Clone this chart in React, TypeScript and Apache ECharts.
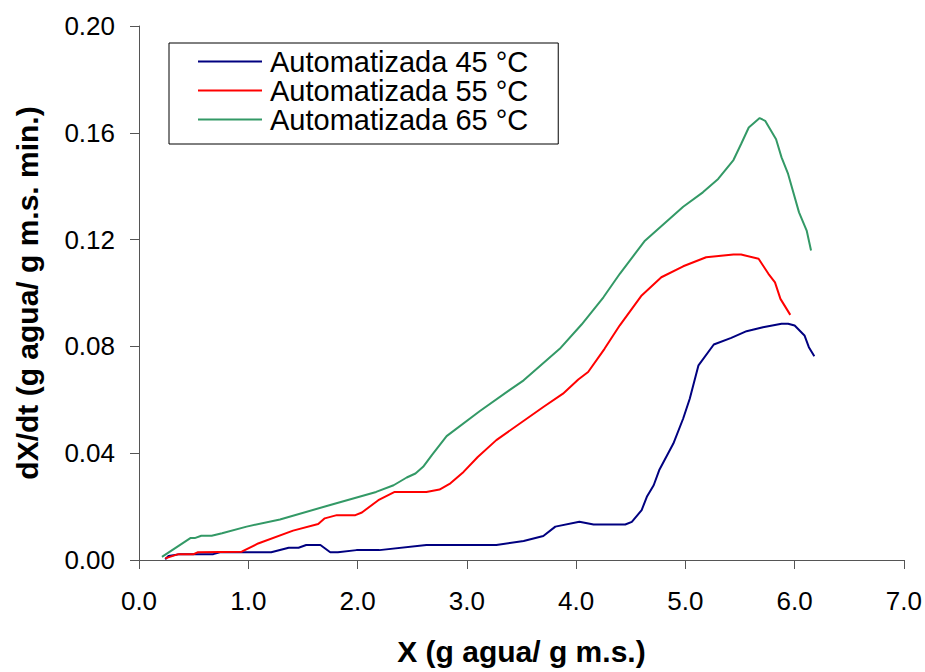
import React, { useEffect, useRef } from "react";
import * as echarts from "echarts";

const seriesNames = ["Automatizada 45 °C", "Automatizada 55 °C", "Automatizada 65 °C"];

const x45 = [0.24, 0.27, 0.375, 0.68, 0.74, 1.21, 1.37, 1.46, 1.53, 1.66, 1.75, 1.82, 1.99, 2.2, 2.63, 3.27, 3.52, 3.7, 3.81, 4.03, 4.16, 4.45, 4.51, 4.6, 4.65, 4.71, 4.76, 4.89, 4.98, 5.04, 5.12, 5.26, 5.42, 5.56, 5.71, 5.88, 5.94, 6.0, 6.09, 6.13, 6.18];
const y45 = [0.0003, 0.0015, 0.0022, 0.0022, 0.0029, 0.0029, 0.0046, 0.0046, 0.0056, 0.0056, 0.0029, 0.0029, 0.0037, 0.0037, 0.0056, 0.0056, 0.0071, 0.009, 0.0125, 0.0143, 0.0133, 0.0133, 0.0143, 0.0187, 0.0239, 0.028, 0.0336, 0.0436, 0.053, 0.0604, 0.0729, 0.0807, 0.0832, 0.0857, 0.0872, 0.0885, 0.0885, 0.0878, 0.0841, 0.0797, 0.0763];

const x55 = [0.24, 0.36, 0.5, 0.54, 0.94, 1.09, 1.41, 1.64, 1.7, 1.81, 1.98, 2.04, 2.19, 2.34, 2.63, 2.75, 2.85, 2.97, 3.1, 3.27, 3.7, 3.88, 4.02, 4.11, 4.26, 4.4, 4.6, 4.78, 4.98, 5.19, 5.44, 5.51, 5.67, 5.76, 5.82, 5.87, 5.96];
const y55 = [0.0006, 0.0022, 0.0022, 0.0029, 0.0031, 0.0062, 0.011, 0.0135, 0.0156, 0.0168, 0.0168, 0.0178, 0.0224, 0.0255, 0.0255, 0.0264, 0.0287, 0.033, 0.0386, 0.0449, 0.0573, 0.0623, 0.0676, 0.0704, 0.0791, 0.0879, 0.0991, 0.1059, 0.11, 0.1134, 0.1144, 0.1144, 0.1128, 0.1072, 0.104, 0.0978, 0.0918];

const x65 = [0.21, 0.47, 0.51, 0.57, 0.665, 0.76, 0.985, 1.29, 1.75, 2.17, 2.33, 2.45, 2.53, 2.6, 2.68, 2.815, 3.12, 3.39, 3.52, 3.85, 4.05, 4.25, 4.4, 4.63, 4.98, 5.16, 5.3, 5.44, 5.51, 5.58, 5.68, 5.73, 5.83, 5.88, 5.94, 6.04, 6.11, 6.15];
const y65 = [0.0012, 0.0082, 0.0082, 0.0091, 0.0091, 0.01, 0.0125, 0.0152, 0.0206, 0.0255, 0.028, 0.0309, 0.0324, 0.0349, 0.0393, 0.0464, 0.0558, 0.0636, 0.0673, 0.0791, 0.0882, 0.0984, 0.1072, 0.1196, 0.1323, 0.1377, 0.1427, 0.1498, 0.1558, 0.162, 0.1655, 0.1645, 0.1576, 0.1508, 0.1446, 0.1302, 0.1234, 0.1159];

const colors = ["#000080", "#FF0000", "#339966"];
const xTitle = "X (g agua/ g m.s.)";
const yTitle = "dX/dt (g agua/ g m.s. min.)";

const zip = (xs: number[], ys: number[]) => xs.map((x, i) => [x, ys[i]]);

export default function App() {
  const ref = useRef<HTMLDivElement>(null);
  useEffect(() => {
    if (!ref.current) return;
    const chart = echarts.init(ref.current, null, { renderer: "svg" });
    const font = "'Liberation Sans', Arial, sans-serif";
    const data = [zip(x45, y45), zip(x55, y55), zip(x65, y65)];
    chart.setOption({
      animation: false,
      backgroundColor: "#ffffff",
      textStyle: { fontFamily: font },
      grid: { left: 139, top: 26, right: 21, bottom: 112 },
      legend: {
        left: 169,
        top: 43,
        orient: "vertical",
        borderColor: "#000",
        borderWidth: 1,
        padding: [4, 30, 10, 29],
        itemGap: 0,
        itemWidth: 64,
        itemHeight: 2,
        icon: "rect",
        textStyle: { fontSize: 29, color: "#000", fontFamily: font, lineHeight: 29, padding: [0, 0, 0, 3] },
        data: seriesNames,
      },
      xAxis: {
        type: "value",
        min: 0,
        max: 7,
        interval: 1,
        name: xTitle,
        nameLocation: "middle",
        nameGap: 76,
        nameTextStyle: { fontSize: 30, fontWeight: "bold", color: "#000", fontFamily: font },
        axisLine: { lineStyle: { color: "#555", width: 1 } },
        axisTick: { show: true, length: 9, lineStyle: { color: "#555" } },
        axisLabel: { fontSize: 26, color: "#000", margin: 28, formatter: (v: number) => v.toFixed(1) },
        splitLine: { show: false },
      },
      yAxis: {
        type: "value",
        min: 0,
        max: 0.2,
        interval: 0.04,
        name: yTitle,
        nameLocation: "middle",
        nameRotate: 90,
        nameGap: 97,
        nameTextStyle: { fontSize: 30, fontWeight: "bold", color: "#000", fontFamily: font },
        axisLine: { show: true, lineStyle: { color: "#555", width: 1 } },
        axisTick: { show: true, length: 9, lineStyle: { color: "#555" } },
        axisLabel: { fontSize: 26, color: "#000", margin: 24, formatter: (v: number) => v.toFixed(2) },
        splitLine: { show: false },
      },
      series: seriesNames.map((n, i) => ({
        name: n,
        type: "line",
        data: data[i],
        symbol: "none",
        lineStyle: { color: colors[i], width: 2 },
        itemStyle: { color: colors[i] },
      })),
    });
    return () => chart.dispose();
  }, []);
  return (
    <div
      ref={ref}
      style={{ position: "fixed", left: 0, top: 0, width: 925, height: 672, background: "#fff" }}
    />
  );
}
